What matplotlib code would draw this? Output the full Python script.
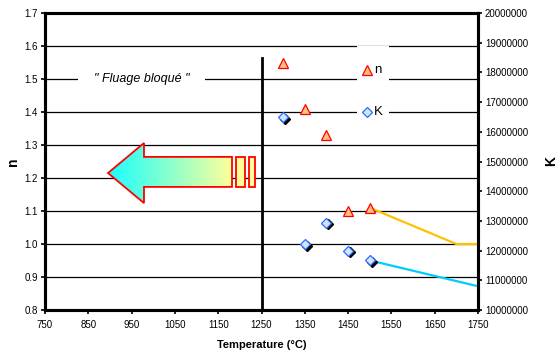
import matplotlib
matplotlib.use("Agg")
import matplotlib.pyplot as plt
import numpy as np
from matplotlib.patches import Polygon, Rectangle
from matplotlib.colors import LinearSegmentedColormap
import matplotlib.transforms as mtransforms

plt.rcParams['font.family'] = ['Liberation Sans', 'DejaVu Sans']

# Data
temps = [1300, 1350, 1400, 1450, 1500]
n_vals = [1.55, 1.41, 1.33, 1.10, 1.11]
K_vals = [16.5e6, 12.22e6, 12.94e6, 12.0e6, 11.67e6]
n_trend_t = [1500, 1700, 1750]
n_trend = [1.11, 1.0, 1.0]
K_trend_t = [1500, 1750]
K_trend = [11.67e6, 10.8e6]
x_ticks = [750, 850, 950, 1050, 1150, 1250, 1350, 1450, 1550, 1650, 1750]
n_ticks = [0.8, 0.9, 1.0, 1.1, 1.2, 1.3, 1.4, 1.5, 1.6, 1.7]
K_ticks = [10000000, 11000000, 12000000, 13000000, 14000000, 15000000,
           16000000, 17000000, 18000000, 19000000, 20000000]
series_names = ['n', 'K']

fig = plt.figure(figsize=(5.58, 3.5), dpi=100)
ax = fig.add_axes([45/558, 40/350, 433/558, 297/350])
ax2 = ax.twinx()

ax.set_xlim(750, 1750)
ax.set_ylim(0.8, 1.7)
ax2.set_ylim(10e6, 20e6)
ax.set_xticks(x_ticks)
ax.set_yticks(n_ticks)
ax.set_yticklabels([f"{v:.1f}" for v in n_ticks])
ax2.set_yticks(K_ticks)
ax2.set_yticklabels([str(v) for v in K_ticks])

for a in (ax, ax2):
    for s in a.spines.values():
        s.set_linewidth(2.2)
        s.set_color('black')
    a.tick_params(labelsize=7, length=3, width=1.2, colors='black', pad=2)
ax.tick_params(axis='x', pad=4)

# gridlines
for v in n_ticks[1:-1]:
    ax.axhline(v, color='black', lw=0.9, zorder=0.5)

# vertical line
ax.plot([1250, 1250], [0.8, 1.565], color='black', lw=2, zorder=2)

# Arrow with gradient
arrow_pts = [(895.5, 1.215), (978.6, 1.306), (978.6, 1.264), (1181.9, 1.264),
             (1181.9, 1.173), (978.6, 1.173), (978.6, 1.124)]
poly = Polygon(arrow_pts, closed=True, facecolor='none', edgecolor='red', lw=1.3, zorder=3)
ax.add_patch(poly)
grad = np.linspace(0, 1, 256).reshape(1, -1)
cmap = LinearSegmentedColormap.from_list('g', ['#1AFFFF', '#FFFF99'])
im = ax.imshow(grad, extent=[895.5, 1181.9, 1.124, 1.306], aspect='auto',
               cmap=cmap, zorder=2.9, origin='lower')
im.set_clip_path(poly)
for x0, x1 in [(1191, 1212), (1221, 1235)]:
    ax.add_patch(Rectangle((x0, 1.173), x1 - x0, 1.264 - 1.173,
                           facecolor='#FFFF99', edgecolor='red', lw=1.3, zorder=3))

# Text
ax.text(973, 1.5, '" Fluage bloqué "', fontsize=9, style='italic', ha='center', va='center',
        bbox=dict(facecolor='white', edgecolor='none', pad=11), zorder=2)

# trend lines
ax.plot(n_trend_t, n_trend, color='#FFC000', lw=1.6, zorder=2, clip_on=True)
ax2.plot(K_trend_t, K_trend, color='#00CCFF', lw=1.6, zorder=2, clip_on=True)

# markers
tri_style = dict(linestyle='none', marker='^', ms=6.5, mfc='#FFC080', mec='red', mew=0.9)
dia_style = dict(linestyle='none', marker='D', ms=5, mfc='#CCE8FF', mec='#3366FF', mew=0.9)
ax.plot(temps, n_vals, zorder=4, **tri_style)
shadow = mtransforms.offset_copy(ax2.transData, fig=fig, x=1.8, y=-1.8, units='dots')
ax2.plot(temps, K_vals, linestyle='none', marker='D', ms=5, mfc='black', mec='black',
         transform=shadow, zorder=3)
ax2.plot(temps, K_vals, zorder=4, **dia_style)

# labels
ax.set_xlabel('Temperature (°C)', fontsize=8, fontweight='bold')
ax.xaxis.set_label_coords(0.5, -0.1)
ax.set_ylabel('n', fontsize=10, fontweight='bold')
ax.yaxis.set_label_coords(-0.058, 0.5)
ax2.set_ylabel('K', fontsize=10, fontweight='bold')
ax2.yaxis.set_label_coords(1.153, 0.5)

# manual legend (white box without border)
ax2.add_patch(Rectangle((0.7206, 0.633), 0.0739, 0.256, transform=ax2.transAxes,
                        facecolor='white', edgecolor='none', zorder=5))
ax2.plot([0.7446], [0.808], transform=ax2.transAxes, zorder=6, clip_on=False, **tri_style)
ax2.plot([0.7446], [0.6667], transform=ax2.transAxes, zorder=6, clip_on=False, **dia_style)
ax2.text(0.761, 0.808, series_names[0], transform=ax2.transAxes, fontsize=9.5,
         va='center', ha='left', zorder=6)
ax2.text(0.759, 0.6667, series_names[1], transform=ax2.transAxes, fontsize=9.5,
         va='center', ha='left', zorder=6)

fig.savefig('out.png', dpi=100)
